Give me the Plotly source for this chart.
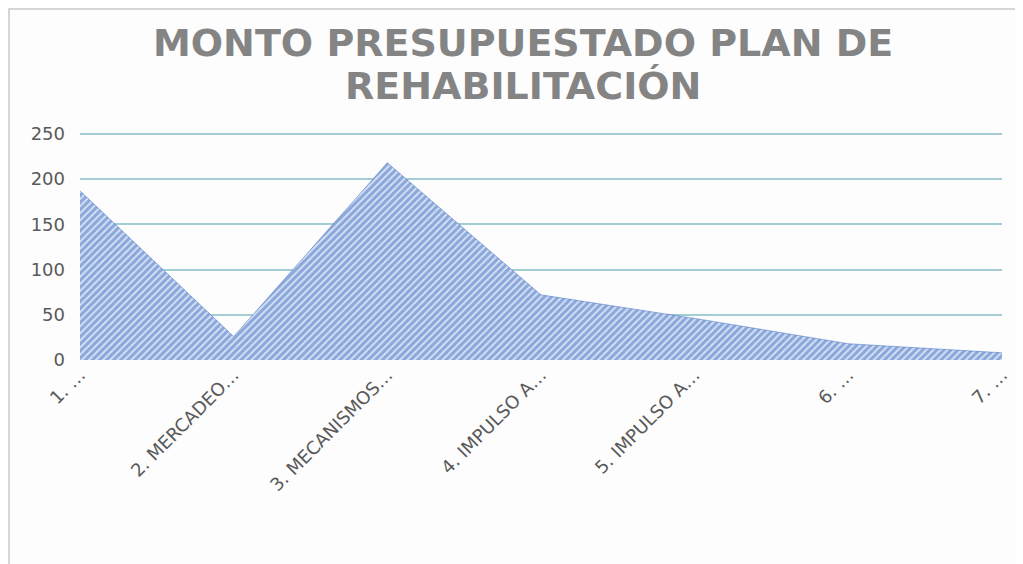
import plotly.graph_objects as go

categories = ["1. …", "2. MERCADEO…", "3. MECANISMOS…", "4. IMPULSO A…",
              "5. IMPULSO A…", "6. …", "7. …"]
values = [187, 26, 218, 72, 46, 18, 8]
y_ticks = [0, 50, 100, 150, 200, 250]
title_lines = ["MONTO PRESUPUESTADO PLAN DE", "REHABILITACIÓN"]

# page body has an 8px margin: figure is sized/offset to compensate
W, H = 1015, 556
L, R, T, B = 72, 21, 124, 204
Y_MAX = 252

pw = W - L - R
ph = H - T - B

fig = go.Figure()
fig.add_trace(go.Scatter(
    x=list(range(len(categories))), y=values,
    mode="lines", fill="tozeroy",
    line=dict(color="rgba(68,114,196,0.5)", width=1),
    fillcolor="rgba(0,0,0,0)",
    fillpattern=dict(shape="/", fgcolor="#3f6ec4", bgcolor="#d5e0f3",
                     size=5, solidity=0.6),
    hoverinfo="skip", showlegend=False,
))

# outer chart frame (left/top edges visible)
fig.add_shape(type="rect", xref="paper", yref="paper",
              x0=(1 - L) / pw, x1=(W + 40 - L) / pw,
              y0=-(H + 40 - T - ph) / ph, y1=(H - B - 1) / ph,
              line=dict(color="#d6d6d6", width=2), fillcolor="rgba(0,0,0,0)",
              layer="below")

title_font = dict(family="DejaVu Sans", size=38, color="#848484", weight="bold")
cx = (522.5 - 8 - L) / pw
for line_txt, yc in zip(title_lines, [35, 78]):
    fig.add_annotation(text=line_txt, xref="paper", yref="paper",
                       x=cx, xanchor="center",
                       y=(H - B - yc) / ph, yanchor="middle",
                       showarrow=False, font=title_font)

tick_font = dict(family="DejaVu Sans", size=18, color="#595959")
fig.update_layout(
    width=W, height=H,
    margin=dict(l=L, r=R, t=T, b=B),
    paper_bgcolor="#fdfdfd", plot_bgcolor="#fdfdfd",
    xaxis=dict(range=[0, len(categories) - 1], tickvals=list(range(len(categories))),
               ticktext=categories, tickangle=-45, showgrid=False,
               zeroline=False, showline=False, ticks="", automargin=False,
               tickfont=tick_font),
    yaxis=dict(range=[0, Y_MAX], tickvals=y_ticks, showgrid=True,
               gridcolor="#a3cdd2", gridwidth=2, zeroline=False, showline=False,
               ticks="", ticklabelstandoff=14, automargin=False,
               tickfont=tick_font),
)

fig.write_html("out.html")
